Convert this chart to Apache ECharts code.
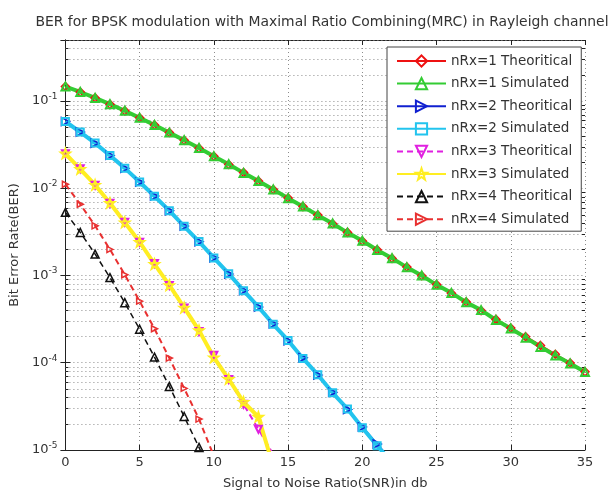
<!DOCTYPE html>
<html>
<head>
<meta charset="utf-8">
<script src="https://cdn.jsdelivr.net/npm/echarts@6/dist/echarts.min.js"></script>
<style>
html,body{margin:0;padding:0;background:#fff;}
#c{width:614px;height:495px;}
</style>
</head>
<body>
<div id="c"></div>
<script>
// ---- data ----
const SNR_DB = [0,1,2,3,4,5,6,7,8,9,10,11,12,13,14,15,16,17,18,19,20,21,22,23,24,25,26,27,28,29,30,31,32,33,34,35];
const X_TICKS = [0,5,10,15,20,25,30,35];
const Y_DECADES = [1e-5,1e-4,1e-3,1e-2,1e-1];
const MINOR_MULT = [2,3,4,5,6,7,8,9];

const THEORY_1 = [0.1464,0.1267,0.1085,0.0919,0.0771,0.0642,0.0530,0.0435,0.0355,0.0288,0.0233,0.0187,0.0151,0.0121,0.00967,0.00772,0.00616,0.00492,0.00392,0.00312,0.00248,0.00197,0.00157,0.00125,0.000992,0.000789,0.000627,0.000498,0.000396,0.000314,0.000250,0.000199,0.000158,0.000125,0.0000995,0.0000790];
const SIM_1    = [0.1463,0.1268,0.1084,0.0920,0.0772,0.0641,0.0531,0.0434,0.0355,0.0289,0.0232,0.0188,0.0150,0.0121,0.00970,0.00768,0.00619,0.00490,0.00394,0.00310,0.00250,0.00196,0.00158,0.00124,0.000998,0.000781,0.000632,0.000494,0.000401,0.000309,0.000247,0.000194,0.000152,0.000121,0.0000978,0.0000785];
const THEORY_2 = [0.0581,0.0441,0.0328,0.0238,0.0169,0.0118,0.00813,0.00551,0.00368,0.00244,0.00160,0.00104,0.000674,0.000434,0.000279,0.000178,0.000114,0.0000722,0.0000459,0.0000291,0.0000184,0.0000117,0.0000074];
const SIM_2    = [0.0582,0.0440,0.0329,0.0237,0.0170,0.0118,0.00810,0.00553,0.00366,0.00245,0.00159,0.00105,0.000670,0.000437,0.000276,0.000180,0.000112,0.0000730,0.0000452,0.0000296,0.0000180,0.0000112,0.0000072];
const THEORY_3 = [0.0249,0.0167,0.0108,0.00673,0.00408,0.00240,0.00137,0.000769,0.000423,0.000228,0.000122,0.0000641,0.0000334,0.0000173,0.0000089,0.0000046];
const SIM_3    = [0.0250,0.0166,0.0109,0.00676,0.00405,0.00242,0.00135,0.000775,0.000428,0.000235,0.000115,0.0000650,0.0000355,0.0000240,0.0000065];
const THEORY_4 = [0.00529,0.00312,0.00176,0.000947,0.000488,0.000242,0.000116,0.0000536,0.0000242,0.0000107,0.0000046];
const SIM_4    = [0.0111,0.00655,0.00371,0.00199,0.00102,0.000508,0.000245,0.000113,0.0000508,0.0000226,0.0000085];

const NAMES = ['nRx=1 Theoritical','nRx=1 Simulated','nRx=2 Theoritical','nRx=2 Simulated','nRx=3 Theoritical','nRx=3 Simulated','nRx=4 Theoritical','nRx=4 Simulated'];

// ---- helpers ----
const FONT = 'DejaVu Sans';
const TXT = '#333';
const GRIDC = '#8c8c8c';
function pairs(arr){ return arr.map((v,i)=>[SNR_DB[i], v]); }
const MINOR_TICKS = [];
Y_DECADES.forEach(d => MINOR_MULT.forEach(m => { if (d*m <= 0.5) MINOR_TICKS.push(d*m); }));

const STAR = 'path://M0,-10 L2.35,-3.24 L9.51,-3.09 L3.80,1.24 L5.88,8.09 L0,4 L-5.88,8.09 L-3.80,1.24 L-9.51,-3.09 L-2.35,-3.24 Z';

function lineSeries(name, data, color, width, dash, symbol, size, rot, bw){
  return {
    name: name, type: 'line', data: pairs(data),
    symbol: symbol, symbolSize: size, symbolRotate: rot || 0,
    showAllSymbol: true, clip: true, z: 3,
    lineStyle: { color: color, width: width, type: dash ? [6,4] : 'solid' },
    itemStyle: { color: 'rgba(255,255,255,0)', borderColor: color, borderWidth: bw || 1.5 },
    emphasis: { disabled: true }
  };
}

const chart = echarts.init(document.getElementById('c'), null, {renderer: 'canvas'});

const yLabelFmt = function(v){
  const e = Math.round(Math.log10(v));
  if (Math.abs(v - Math.pow(10, e)) / v > 1e-6) return '';
  return '{b|10}{s|' + e + '}';
};

const option = {
  backgroundColor: '#fff',
  animation: false,
  textStyle: { fontFamily: FONT },
  title: {
    text: 'BER for BPSK modulation with Maximal Ratio Combining(MRC) in Rayleigh channel',
    left: 317, top: 10, textAlign: 'center',
    textStyle: { fontFamily: FONT, fontSize: 13.9, fontWeight: 'normal', color: TXT }
  },
  grid: { left: 63, right: 29, top: 40, bottom: 44, containLabel: false },
  legend: {
    data: NAMES,
    orient: 'vertical',
    left: 387, top: 47,
    padding: [7, 9, 5, 9],
    itemWidth: 49, itemHeight: 14, itemGap: 8.6,
    backgroundColor: '#fff',
    borderColor: '#444', borderWidth: 1,
    textStyle: { fontFamily: FONT, fontSize: 13.5, color: TXT, padding: [0,0,0,0] },
    selectedMode: false
  },
  xAxis: [
    {
      type: 'value', min: 0, max: 35, interval: 5,
      name: 'Signal to Noise Ratio(SNR)in db', nameLocation: 'middle', nameGap: 27,
      nameTextStyle: { fontFamily: FONT, fontSize: 13, color: TXT },
      axisLine: { show: true, lineStyle: { color: '#222', width: 1 } },
      axisTick: { show: true, inside: true, length: 5, lineStyle: { color: '#222' } },
      axisLabel: { margin: 6, fontFamily: FONT, fontSize: 13, color: TXT, showMinLabel: true, showMaxLabel: true },
      splitLine: { show: true, lineStyle: { color: GRIDC, type: [1,3], width: 1 } }
    },
    {
      type: 'value', min: 0, max: 35, interval: 5, position: 'top',
      axisLine: { show: true, lineStyle: { color: '#222', width: 1 } },
      axisTick: { show: true, inside: true, length: 5, lineStyle: { color: '#222' } },
      axisLabel: { show: false },
      splitLine: { show: false }
    }
  ],
  yAxis: [
    {
      type: 'log', logBase: 10, min: 1e-5, max: 0.5,
      name: 'Bit Error Rate(BER)', nameLocation: 'middle', nameGap: 40,
      nameTextStyle: { fontFamily: FONT, fontSize: 13, color: TXT },
      axisLine: { show: true, lineStyle: { color: '#222', width: 1 } },
      axisTick: { show: true, inside: true, length: 5, lineStyle: { color: '#222' } },
      axisLabel: {
        margin: 8, formatter: yLabelFmt, fontFamily: FONT, color: TXT,
        rich: {
          b: { fontFamily: FONT, fontSize: 13, color: TXT },
          s: { fontFamily: FONT, fontSize: 9, color: TXT, padding: [0,0,9,0] }
        }
      },
      splitLine: { show: true, lineStyle: { color: GRIDC, type: [1,3], width: 1 } }
    },
    {
      type: 'log', logBase: 10, min: 1e-5, max: 0.5, position: 'right',
      axisLine: { show: true, lineStyle: { color: '#222', width: 1 } },
      axisTick: { show: true, inside: true, length: 5, lineStyle: { color: '#222' } },
      axisLabel: { show: false },
      splitLine: { show: false }
    }
  ],
  series: [
    {
      type: 'custom', name: 'minorgrid', silent: true, z: 1,
      xAxisIndex: 0, yAxisIndex: 0,
      data: MINOR_TICKS.map(v => [0, v]),
      encode: { x: 0, y: 1 },
      renderItem: function(params, api){
        const p = api.coord([0, api.value(1)]);
        const cs = params.coordSys;
        const y = Math.round(p[1]) + 0.5;
        return {
          type: 'group',
          children: [
            { type: 'line', shape: { x1: cs.x, y1: y, x2: cs.x + cs.width, y2: y },
              style: { stroke: GRIDC, lineWidth: 1, lineDash: [1,3] } },
            { type: 'line', shape: { x1: cs.x, y1: y, x2: cs.x + 3, y2: y },
              style: { stroke: '#222', lineWidth: 1 } },
            { type: 'line', shape: { x1: cs.x + cs.width - 3, y1: y, x2: cs.x + cs.width, y2: y },
              style: { stroke: '#222', lineWidth: 1 } }
          ]
        };
      }
    },
    lineSeries(NAMES[0], THEORY_1, '#ee1111', 2, false, 'diamond', 8, 0, 1.5),
    lineSeries(NAMES[1], SIM_1, '#33cc33', 4, false, 'triangle', 8, 0, 2),
    lineSeries(NAMES[2], THEORY_2, '#1020d0', 2, false, 'triangle', 8, -90, 1.5),
    lineSeries(NAMES[3], SIM_2, '#22c4ee', 4, false, 'rect', 7, 0, 2),
    lineSeries(NAMES[4], THEORY_3, '#e020e0', 2, true, 'triangle', 7, 180, 2),
    lineSeries(NAMES[5], SIM_3, '#ffee22', 4, false, STAR, 9, 0, 2),
    lineSeries(NAMES[6], THEORY_4, '#111111', 1.5, true, 'triangle', 8, 0, 1.5),
    lineSeries(NAMES[7], SIM_4, '#e83030', 2, true, 'triangle', 6, -90, 1.5)
  ]
};
chart.setOption(option);
</script>
</body>
</html>
